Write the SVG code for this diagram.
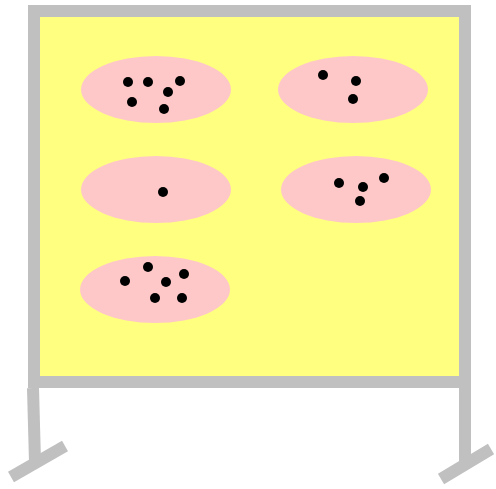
<svg xmlns="http://www.w3.org/2000/svg" width="496" height="489" viewBox="0 0 496 489">
<style>
.frame{fill:none;stroke:#c0c0c0;stroke-width:12}
.board{fill:#ffff80}
.leg{stroke:#c0c0c0;stroke-width:12;fill:none}
.set{fill:#ffc8c8}
.dot{fill:#000}
</style>
<g id="board">
<rect class="board" x="34" y="11" width="431" height="371"/>
<rect class="frame" x="34" y="11" width="431" height="371"/>
<line class="leg" x1="33" y1="388" x2="35" y2="462"/>
<line class="leg" x1="11" y1="477" x2="65" y2="446"/>
<line class="leg" x1="465" y1="388" x2="465" y2="462"/>
<line class="leg" x1="441" y1="479" x2="491" y2="449"/>
</g>
<g id="set1">
<ellipse class="set" cx="156" cy="89.5" rx="75" ry="33.5"/>
<circle class="dot" cx="128" cy="82" r="5"/>
<circle class="dot" cx="148" cy="82" r="5"/>
<circle class="dot" cx="180" cy="81" r="5"/>
<circle class="dot" cx="168" cy="92" r="5"/>
<circle class="dot" cx="132" cy="102" r="5"/>
<circle class="dot" cx="164" cy="109" r="5"/>
</g>
<g id="set2">
<ellipse class="set" cx="353" cy="89.5" rx="75" ry="33.5"/>
<circle class="dot" cx="323" cy="75" r="5"/>
<circle class="dot" cx="356" cy="81" r="5"/>
<circle class="dot" cx="353" cy="99" r="5"/>
</g>
<g id="set3">
<ellipse class="set" cx="156" cy="189.5" rx="75" ry="33.5"/>
<circle class="dot" cx="163" cy="192" r="5"/>
</g>
<g id="set4">
<ellipse class="set" cx="356" cy="189.5" rx="75" ry="33.5"/>
<circle class="dot" cx="339" cy="183" r="5"/>
<circle class="dot" cx="363" cy="187" r="5"/>
<circle class="dot" cx="384" cy="178" r="5"/>
<circle class="dot" cx="360" cy="201" r="5"/>
</g>
<g id="set5">
<ellipse class="set" cx="155" cy="289.5" rx="75" ry="33.5"/>
<circle class="dot" cx="125" cy="281" r="5"/>
<circle class="dot" cx="148" cy="267" r="5"/>
<circle class="dot" cx="184" cy="274" r="5"/>
<circle class="dot" cx="166" cy="282" r="5"/>
<circle class="dot" cx="155" cy="298" r="5"/>
<circle class="dot" cx="182" cy="298" r="5"/>
</g>
<g id="connectors"></g>
</svg>
